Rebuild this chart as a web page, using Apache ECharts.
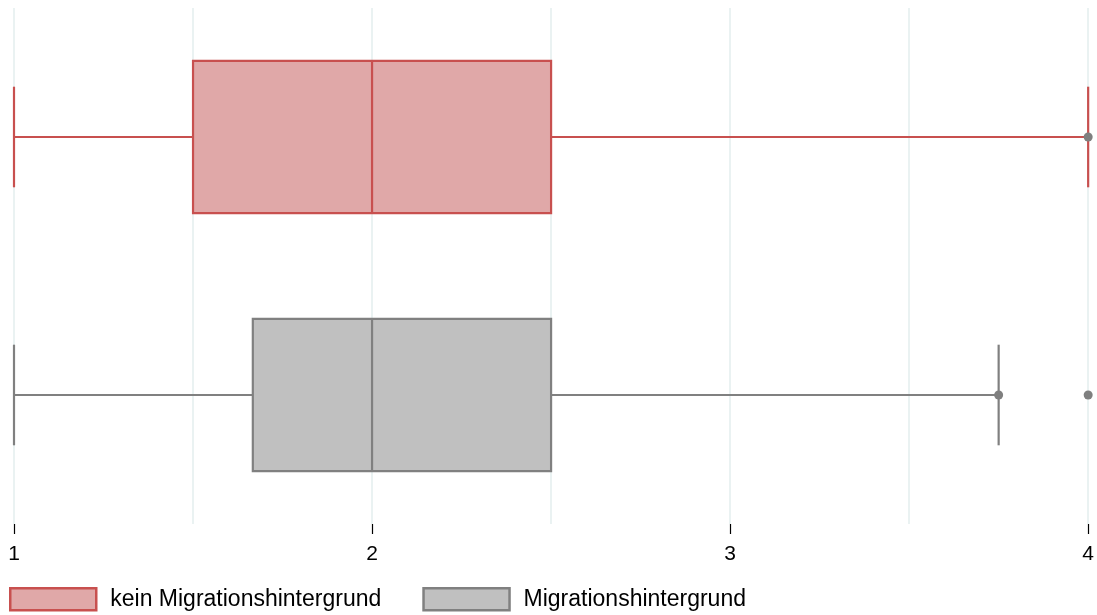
<!DOCTYPE html>
<html>
<head>
<meta charset="utf-8">
<script src="https://cdn.jsdelivr.net/npm/echarts@6/dist/echarts.min.js"></script>
<style>
  html, body { margin: 0; padding: 0; background: #fff; }
  #chart { width: 1097px; height: 615px; }
</style>
</head>
<body>
<div id="chart"></div>
<script>
// groups (top to bottom)
var categories = ['kein Migrationshintergrund', 'Migrationshintergrund'];
// [lower whisker, Q1, median, Q3, upper whisker]
var keinStats = [1, 1.5, 2, 2.5, 4];
var migStats = [1, 1.667, 2, 2.5, 3.75];
// single points: [value, group index]
var points = [[4, 0], [3.75, 1], [4, 1]];
var xTicks = [1, 2, 3, 4];

var colors = {
  kein: { line: '#c8504f', fill: '#e0a8a8' },
  mig: { line: '#808080', fill: '#c0c0c0' }
};

function boxItem(stats, idx) {
  return stats.concat([idx]);
}

function renderBox(params, api) {
  var cat = api.value(5);
  var lo = api.coord([api.value(0), cat]);
  var q1 = api.coord([api.value(1), cat]);
  var md = api.coord([api.value(2), cat]);
  var q3 = api.coord([api.value(3), cat]);
  var hi = api.coord([api.value(4), cat]);
  var band = api.size([0, 1])[1];
  var bh = band * 0.59 / 2;
  var ch = band * 0.39 / 2;
  var y = md[1];
  var st = api.style();
  var lineStyle = { stroke: st.stroke, lineWidth: 2.2 };
  return {
    type: 'group',
    children: [
      { type: 'line', shape: { x1: lo[0], y1: y, x2: q1[0], y2: y }, style: lineStyle },
      { type: 'line', shape: { x1: q3[0], y1: y, x2: hi[0], y2: y }, style: lineStyle },
      { type: 'line', shape: { x1: lo[0], y1: y - ch, x2: lo[0], y2: y + ch }, style: lineStyle },
      { type: 'line', shape: { x1: hi[0], y1: y - ch, x2: hi[0], y2: y + ch }, style: lineStyle },
      { type: 'rect', shape: { x: q1[0], y: y - bh, width: q3[0] - q1[0], height: bh * 2 },
        style: { fill: st.fill, stroke: st.stroke, lineWidth: 2.2 } },
      { type: 'line', shape: { x1: md[0], y1: y - bh, x2: md[0], y2: y + bh }, style: lineStyle }
    ]
  };
}

var myChart = echarts.init(document.getElementById('chart'));
var option = {
  animation: false,
  textStyle: { fontFamily: 'Liberation Sans, Arial, sans-serif' },
  grid: { left: 14, right: 4, top: 8, bottom: 91, containLabel: false },
  legend: {
    left: 9,
    top: 587,
    padding: 0,
    itemWidth: 86,
    itemHeight: 22,
    itemGap: 41,
    icon: 'rect',
    textStyle: { fontSize: 23, color: '#000', padding: [0, 0, 0, 9] },
    data: [
      { name: categories[0], itemStyle: { color: colors.kein.fill, borderColor: colors.kein.line, borderWidth: 2.5 } },
      { name: categories[1], itemStyle: { color: colors.mig.fill, borderColor: colors.mig.line, borderWidth: 2.5 } }
    ]
  },
  xAxis: {
    type: 'value',
    min: 1,
    max: 4,
    interval: 1,
    axisLine: { show: false },
    axisTick: { show: true, length: 10, lineStyle: { color: '#000', width: 1.2 } },
    axisLabel: {
      fontSize: 21,
      color: '#000',
      margin: 20,
      formatter: function (v) { return xTicks.indexOf(v) >= 0 ? String(v) : ''; }
    },
    splitLine: { show: true, lineStyle: { color: '#e3eeee', width: 1.5 } },
    minorTick: { show: false, splitNumber: 2 },
    minorSplitLine: { show: true, lineStyle: { color: '#e3eeee', width: 1.5 } }
  },
  yAxis: {
    type: 'category',
    data: categories,
    inverse: true,
    axisLine: { show: false },
    axisTick: { show: false },
    axisLabel: { show: false },
    splitLine: { show: false }
  },
  series: [
    {
      name: categories[0],
      type: 'custom',
      renderItem: renderBox,
      encode: { x: [0, 1, 2, 3, 4], y: 5 },
      itemStyle: { color: colors.kein.fill, borderColor: colors.kein.line },
      data: [boxItem(keinStats, 0)],
      z: 2
    },
    {
      name: categories[1],
      type: 'custom',
      renderItem: renderBox,
      encode: { x: [0, 1, 2, 3, 4], y: 5 },
      itemStyle: { color: colors.mig.fill, borderColor: colors.mig.line },
      data: [boxItem(migStats, 1)],
      z: 2
    },
    {
      name: 'Punkte',
      type: 'scatter',
      symbolSize: 9,
      itemStyle: { color: '#7f7f7f', opacity: 1 },
      data: points,
      z: 5
    }
  ]
};
option && myChart.setOption(option);
window.addEventListener('resize', function () {
  myChart.resize();
});
</script>
</body>
</html>
